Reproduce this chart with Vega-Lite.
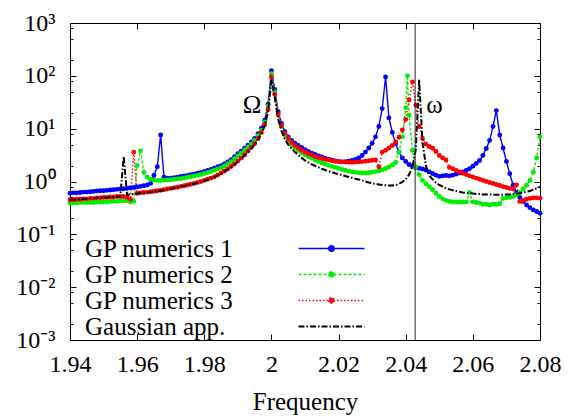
{
"$schema":"https://vega.github.io/schema/vega-lite/v6.json",
"width":470,"height":317,
"autosize":{"type":"none"},
"padding":{"left":70,"top":23,"right":36,"bottom":79},
"background":"white",
"config":{"view":{"stroke":"black","strokeWidth":1},
"legend":{"labelFont":"Liberation Serif","labelFontSize":25,"labelColor":"black"},
"axis":{"labelFont":"Liberation Serif","titleFont":"Liberation Serif","labelFontSize":24,"titleFontSize":25,"titleFontWeight":"normal","labelColor":"black","titleColor":"black","tickColor":"black","domainColor":"black","grid":false,"labelFlush":false,"labelOverlap":false}},
"datasets":{
"names":[{"k":"a","series":"GP numerics 1"},{"k":"b","series":"GP numerics 2"},{"k":"c","series":"GP numerics 3"},{"k":"d","series":"Gaussian app."}],
"curves":[
{"x":1.940,"a":0.60,"b":0.39,"c":0.45,"d":0.45},
{"x":1.941,"a":0.61,"b":0.39,"c":0.45,"d":0.45},
{"x":1.942,"a":0.61,"b":0.39,"c":0.46,"d":0.46},
{"x":1.943,"a":0.62,"b":0.40,"c":0.46,"d":0.46},
{"x":1.944,"a":0.63,"b":0.40,"c":0.47,"d":0.47},
{"x":1.945,"a":0.63,"b":0.40,"c":0.47,"d":0.47},
{"x":1.946,"a":0.64,"b":0.40,"c":0.48,"d":0.48},
{"x":1.947,"a":0.65,"b":0.40,"c":0.48,"d":0.48},
{"x":1.948,"a":0.66,"b":0.41,"c":0.49,"d":0.49},
{"x":1.949,"a":0.67,"b":0.41,"c":0.49,"d":0.49},
{"x":1.950,"a":0.67,"b":0.41,"c":0.50,"d":0.50},
{"x":1.951,"a":0.68,"b":0.41,"c":0.50,"d":0.50},
{"x":1.952,"a":0.69,"b":0.42,"c":0.51,"d":0.51},
{"x":1.953,"a":0.70,"b":0.42,"c":0.51,"d":0.51},
{"x":1.954,"a":0.71,"b":0.42,"c":0.52,"d":0.52},
{"x":1.955,"a":0.72,"b":0.43,"c":0.52,"d":0.52},
{"x":1.956,"a":0.73,"b":0.43,"c":0.52,"d":3.0},
{"x":1.957,"a":0.74,"b":0.43,"c":0.50,"d":0.56},
{"x":1.958,"a":0.76,"b":0.41,"c":0.46,"d":0.57},
{"x":1.959,"a":0.77,"b":0.42,"c":3.6,"d":0.58},
{"x":1.960,"a":0.79,"b":2.0,"c":0.60,"d":0.59},
{"x":1.961,"a":0.81,"b":3.8,"c":0.61,"d":0.60},
{"x":1.962,"a":0.83,"b":1.5,"c":0.62,"d":0.61},
{"x":1.963,"a":0.86,"b":1.2,"c":0.63,"d":0.62},
{"x":1.964,"a":0.92,"b":1.1,"c":0.64,"d":0.63},
{"x":1.965,"a":1.3,"b":1.06,"c":0.65,"d":0.64},
{"x":1.966,"a":1.9,"b":1.05,"c":0.67,"d":0.66},
{"x":1.967,"a":7.6,"b":1.05,"c":0.68,"d":0.67},
{"x":1.968,"a":1.2,"b":1.06,"c":0.70,"d":0.69},
{"x":1.969,"a":1.15,"b":1.07,"c":0.72,"d":0.71},
{"x":1.970,"a":1.16,"b":1.08,"c":0.74,"d":0.73},
{"x":1.971,"a":1.18,"b":1.10,"c":0.76,"d":0.75},
{"x":1.972,"a":1.21,"b":1.12,"c":0.78,"d":0.77},
{"x":1.973,"a":1.24,"b":1.14,"c":0.81,"d":0.80},
{"x":1.974,"a":1.27,"b":1.17,"c":0.83,"d":0.82},
{"x":1.975,"a":1.30,"b":1.20,"c":0.86,"d":0.85},
{"x":1.976,"a":1.34,"b":1.23,"c":0.89,"d":0.88},
{"x":1.977,"a":1.38,"b":1.27,"c":0.92,"d":0.91},
{"x":1.978,"a":1.43,"b":1.31,"c":0.96,"d":0.95},
{"x":1.979,"a":1.49,"b":1.36,"c":1.0,"d":0.99},
{"x":1.980,"a":1.55,"b":1.42,"c":1.05,"d":1.03},
{"x":1.981,"a":1.62,"b":1.48,"c":1.10,"d":1.08},
{"x":1.982,"a":1.70,"b":1.55,"c":1.16,"d":1.14},
{"x":1.983,"a":1.79,"b":1.63,"c":1.23,"d":1.21},
{"x":1.984,"a":1.90,"b":1.73,"c":1.33,"d":1.30},
{"x":1.985,"a":2.0,"b":1.83,"c":1.45,"d":1.41},
{"x":1.986,"a":2.15,"b":1.97,"c":1.58,"d":1.54},
{"x":1.987,"a":2.35,"b":2.15,"c":1.73,"d":1.69},
{"x":1.988,"a":2.6,"b":2.38,"c":1.92,"d":1.87},
{"x":1.989,"a":2.95,"b":2.7,"c":2.15,"d":2.1},
{"x":1.990,"a":3.35,"b":3.05,"c":2.45,"d":2.38},
{"x":1.991,"a":3.75,"b":3.45,"c":2.8,"d":2.72},
{"x":1.992,"a":4.25,"b":3.9,"c":3.2,"d":3.1},
{"x":1.993,"a":4.85,"b":4.45,"c":3.75,"d":3.63},
{"x":1.994,"a":5.6,"b":5.15,"c":4.4,"d":4.25},
{"x":1.995,"a":6.5,"b":6.0,"c":5.2,"d":5.0},
{"x":1.996,"a":8.0,"b":7.4,"c":6.5,"d":6.2},
{"x":1.997,"a":10.2,"b":9.4,"c":8.4,"d":8.0},
{"x":1.998,"a":14.5,"b":13.3,"c":12,"d":11.3},
{"x":1.999,"a":29,"b":27,"c":23,"d":21},
{"x":2.000,"a":125,"b":110,"c":95,"d":85},
{"x":2.001,"a":55,"b":50,"c":45,"d":38},
{"x":2.002,"a":21,"b":19,"c":19,"d":15},
{"x":2.003,"a":12.5,"b":11,"c":11.5,"d":9.0},
{"x":2.004,"a":8.8,"b":7.6,"c":8.2,"d":6.3},
{"x":2.005,"a":7.0,"b":5.9,"c":6.5,"d":5.0},
{"x":2.006,"a":6.0,"b":4.9,"c":5.5,"d":4.2},
{"x":2.007,"a":5.3,"b":4.3,"c":4.8,"d":3.6},
{"x":2.008,"a":4.8,"b":3.85,"c":4.3,"d":3.15},
{"x":2.009,"a":4.4,"b":3.5,"c":3.9,"d":2.8},
{"x":2.010,"a":4.0,"b":3.2,"c":3.6,"d":2.5},
{"x":2.011,"a":3.7,"b":2.95,"c":3.35,"d":2.3},
{"x":2.012,"a":3.45,"b":2.75,"c":3.15,"d":2.12},
{"x":2.013,"a":3.25,"b":2.55,"c":2.98,"d":1.97},
{"x":2.014,"a":3.05,"b":2.4,"c":2.84,"d":1.85},
{"x":2.015,"a":2.9,"b":2.25,"c":2.72,"d":1.74},
{"x":2.016,"a":2.75,"b":2.12,"c":2.62,"d":1.65},
{"x":2.017,"a":2.65,"b":2.02,"c":2.54,"d":1.57},
{"x":2.018,"a":2.55,"b":1.93,"c":2.47,"d":1.5},
{"x":2.019,"a":2.45,"b":1.85,"c":2.42,"d":1.43},
{"x":2.020,"a":2.4,"b":1.77,"c":2.38,"d":1.37},
{"x":2.021,"a":2.35,"b":1.7,"c":2.35,"d":1.32},
{"x":2.022,"a":2.38,"b":1.63,"c":2.33,"d":1.27},
{"x":2.023,"a":2.42,"b":1.57,"c":2.32,"d":1.22},
{"x":2.024,"a":2.5,"b":1.52,"c":2.32,"d":1.18},
{"x":2.025,"a":2.62,"b":1.49,"c":2.33,"d":1.13},
{"x":2.026,"a":2.8,"b":1.46,"c":2.35,"d":1.09},
{"x":2.027,"a":3.1,"b":1.45,"c":2.38,"d":1.05},
{"x":2.028,"a":3.6,"b":1.45,"c":2.42,"d":1.0},
{"x":2.029,"a":4.3,"b":1.46,"c":2.47,"d":0.96},
{"x":2.030,"a":5.3,"b":1.5,"c":2.52,"d":0.93},
{"x":2.031,"a":7.0,"b":1.54,"c":2.55,"d":0.9},
{"x":2.032,"a":11,"b":1.6,"c":1.9,"d":0.88},
{"x":2.033,"a":24,"b":1.67,"c":3.6,"d":0.86},
{"x":2.034,"a":95,"b":1.76,"c":3.9,"d":0.85},
{"x":2.035,"a":16,"b":1.88,"c":4.3,"d":0.84},
{"x":2.036,"a":8.5,"b":2.05,"c":4.8,"d":0.84},
{"x":2.037,"a":5.2,"b":2.3,"c":5.6,"d":0.85},
{"x":2.038,"a":3.6,"b":3.6,"c":6.9,"d":0.9},
{"x":2.039,"a":2.8,"b":7,"c":9.5,"d":0.98},
{"x":2.040,"a":2.4,"b":25,"c":15,"d":1.1},
{"x":2.0405,"b":100},
{"x":2.041,"a":2.1,"b":18,"c":35,"d":1.35},
{"x":2.042,"a":1.95,"b":3.9,"c":77,"d":1.9},
{"x":2.043,"a":1.85,"b":1.9,"c":28,"d":4.0},
{"x":2.044,"a":1.78,"b":1.35,"c":11,"d":85},
{"x":2.045,"a":1.72,"b":1.05,"c":6.5,"d":5.5},
{"x":2.046,"a":1.65,"b":0.9,"c":5.1,"d":2.0},
{"x":2.047,"a":1.52,"b":0.8,"c":4.6,"d":1.3},
{"x":2.048,"a":1.42,"b":0.7,"c":4.25,"d":1.1},
{"x":2.049,"a":1.32,"b":0.6,"c":3.7,"d":0.95},
{"x":2.050,"a":1.25,"b":0.52,"c":3.1,"d":0.86},
{"x":2.051,"a":1.28,"b":0.47,"c":2.8,"d":0.8},
{"x":2.052,"a":1.30,"b":0.44,"c":2.55,"d":0.74},
{"x":2.053,"a":1.28,"b":0.42,"c":1.85,"d":0.71},
{"x":2.054,"a":1.32,"b":0.41,"c":1.75,"d":0.68},
{"x":2.055,"a":1.38,"b":0.41,"c":1.62,"d":0.66},
{"x":2.056,"a":1.45,"b":0.41,"c":1.52,"d":0.64},
{"x":2.057,"a":1.52,"b":0.41,"c":1.43,"d":0.62},
{"x":2.058,"a":1.62,"b":0.41,"c":1.35,"d":0.61},
{"x":2.059,"a":1.75,"b":0.62,"c":1.28,"d":0.60},
{"x":2.060,"a":1.95,"b":0.41,"c":1.22,"d":0.59},
{"x":2.061,"a":2.2,"b":0.40,"c":1.16,"d":0.58},
{"x":2.062,"a":2.5,"b":0.39,"c":1.10,"d":0.58},
{"x":2.063,"a":3.1,"b":0.37,"c":1.05,"d":0.57},
{"x":2.064,"a":4.2,"b":0.37,"c":1.0,"d":0.57},
{"x":2.065,"a":6.0,"b":0.36,"c":0.96,"d":0.57},
{"x":2.066,"a":11,"b":0.37,"c":0.92,"d":0.56},
{"x":2.067,"a":22,"b":0.37,"c":0.88,"d":0.56},
{"x":2.068,"a":7.6,"b":0.38,"c":0.84,"d":0.56},
{"x":2.069,"a":4.3,"b":0.48,"c":0.80,"d":0.56},
{"x":2.070,"a":2.4,"b":0.49,"c":0.77,"d":0.57},
{"x":2.071,"a":1.4,"b":0.50,"c":0.74,"d":0.57},
{"x":2.072,"a":0.85,"b":0.52,"c":0.72,"d":0.58},
{"x":2.073,"a":0.62,"b":0.56,"c":0.86,"d":0.59},
{"x":2.074,"a":0.50,"b":0.62,"c":0.42,"d":0.60},
{"x":2.075,"a":0.42,"b":0.72,"c":0.44,"d":0.62},
{"x":2.076,"a":0.36,"b":0.85,"c":0.46,"d":0.64},
{"x":2.077,"a":0.32,"b":1.05,"c":0.48,"d":0.66},
{"x":2.078,"a":0.29,"b":1.5,"c":0.49,"d":0.70},
{"x":2.079,"a":0.27,"b":2.8,"c":0.49,"d":0.74},
{"x":2.080,"a":0.25,"b":7,"c":0.48,"d":0.80}
]},
"data":{"name":"curves"},
"transform":[
{"fold":["a","b","c","d"],"as":["k","v"]},
{"filter":"isValid(datum.v)"},
{"lookup":"k","from":{"data":{"name":"names"},"key":"k","fields":["series"]}}
],
"layer":[
{"transform":[{"filter":"datum.k != 'd'"}],
 "mark":{"type":"line","strokeWidth":1.4},
 "encoding":{
  "x":{"field":"x","type":"quantitative","scale":{"domain":[1.94,2.08],"nice":false,"zero":false},"axis":{"orient":"bottom","values":[1.94,1.96,1.98,2,2.02,2.04,2.06,2.08],"format":".2~f","title":"Frequency","tickSize":-6,"labelPadding":18,"titlePadding":13,"domain":false}},
  "y":{"field":"v","type":"quantitative","scale":{"type":"log","domain":[0.001,1000],"nice":false},"axis":{"orient":"left","values":[0.001,0.002,0.005,0.008,0.01,0.02,0.05,0.08,0.1,0.2,0.5,0.8,1,2,5,8,10,20,50,80,100,200,500,800,1000],"labelExpr":"abs(log(datum.value)/LN10 - round(log(datum.value)/LN10)) < 0.01 ? ['10⁻³','10⁻²','10⁻¹','10⁰','10¹','10²','10³'][round(log(datum.value)/LN10)+3] : ''","tickSize":{"condition":{"test":"abs(log(datum.value)/LN10 - round(log(datum.value)/LN10)) < 0.01","value":-6},"value":-3},"labelPadding":21,"title":null,"domain":false}},
  "color":{"field":"series","type":"nominal","scale":{"domain":["GP numerics 1","GP numerics 2","GP numerics 3","Gaussian app."],"range":["#0000ff","#00ee00","#ff0000","#000000"]},"legend":{"orient":"none","legendX":249,"legendY":213,"title":null,"padding":0,"labelOffset":-259,"labelLimit":0,"symbolSize":484,"symbolStrokeWidth":1.5,"rowPadding":-1,"encode":{"symbols":{"update":{"fill":{"scale":"color","field":"value"},"shape":{"signal":"datum.value == 'Gaussian app.' ? 'M-3,0H3' : 'M-3,0H3M0.25,0A0.25,0.25,0,1,1,-0.25,0A0.25,0.25,0,1,1,0.25,0Z'"},"strokeWidth":{"signal":"datum.value == 'Gaussian app.' ? 2 : 1.5"},"opacity":{"value":1}}}}}},
  "strokeDash":{"field":"series","type":"nominal","scale":{"domain":["GP numerics 1","GP numerics 2","GP numerics 3","Gaussian app."],"range":[[1,0],[3,2],[1.5,2],[6,2,1.5,2]]},"legend":{"orient":"none","legendX":249,"legendY":213,"title":null,"padding":0,"labelOffset":-259,"labelLimit":0,"symbolSize":484,"symbolStrokeWidth":1.5,"rowPadding":-1,"encode":{"symbols":{"update":{"fill":{"scale":"color","field":"value"},"shape":{"signal":"datum.value == 'Gaussian app.' ? 'M-3,0H3' : 'M-3,0H3M0.25,0A0.25,0.25,0,1,1,-0.25,0A0.25,0.25,0,1,1,0.25,0Z'"},"strokeWidth":{"signal":"datum.value == 'Gaussian app.' ? 2 : 1.5"},"opacity":{"value":1}}}}}}
 }},
{"transform":[{"filter":"datum.k != 'd'"}],
 "mark":{"type":"point","filled":true,"size":24,"opacity":1},
 "encoding":{
  "x":{"field":"x","type":"quantitative","scale":{"domain":[1.94,2.08],"nice":false,"zero":false},"axis":null},
  "y":{"field":"v","type":"quantitative","scale":{"type":"log","domain":[0.001,1000],"nice":false},"axis":null},
  "color":{"field":"series","type":"nominal","legend":null},
  "order":{"field":"k"}
 }},
{"transform":[{"filter":"datum.k == 'd'"}],
 "mark":{"type":"line","strokeWidth":2},
 "encoding":{
  "x":{"field":"x","type":"quantitative","scale":{"domain":[1.94,2.08],"nice":false,"zero":false},"axis":null},
  "y":{"field":"v","type":"quantitative","scale":{"type":"log","domain":[0.001,1000],"nice":false},"axis":null},
  "color":{"field":"series","type":"nominal","legend":null},
  "strokeDash":{"field":"series","type":"nominal","legend":null}
 }},
{"data":{"values":[{"x":2.0428}]},
 "mark":{"type":"rule","color":"#222222","strokeWidth":1},
 "encoding":{"x":{"field":"x","type":"quantitative","scale":{"domain":[1.94,2.08],"nice":false,"zero":false},"axis":null}}},
{"data":{"values":[{"x":1.9942,"y":19.7,"t":"Ω"},{"x":2.0486,"y":19.7,"t":"ω"}]},
 "mark":{"type":"text","font":"Liberation Serif","fontSize":25,"baseline":"alphabetic","align":"center","color":"black"},
 "encoding":{
  "x":{"field":"x","type":"quantitative","scale":{"domain":[1.94,2.08],"nice":false,"zero":false},"axis":{"orient":"top","values":[1.94,1.96,1.98,2,2.02,2.04,2.06,2.08],"labels":false,"tickSize":-6,"title":null,"domain":false}},
  "y":{"field":"y","type":"quantitative","scale":{"type":"log","domain":[0.001,1000],"nice":false},"axis":{"orient":"right","values":[0.001,0.002,0.005,0.008,0.01,0.02,0.05,0.08,0.1,0.2,0.5,0.8,1,2,5,8,10,20,50,80,100,200,500,800,1000],"labels":false,"tickSize":{"condition":{"test":"abs(log(datum.value)/LN10 - round(log(datum.value)/LN10)) < 0.01","value":-6},"value":-3},"title":null,"domain":false}},
  "text":{"field":"t"}
 }}
],
"resolve":{"axis":{"x":"independent","y":"independent"}}
}
